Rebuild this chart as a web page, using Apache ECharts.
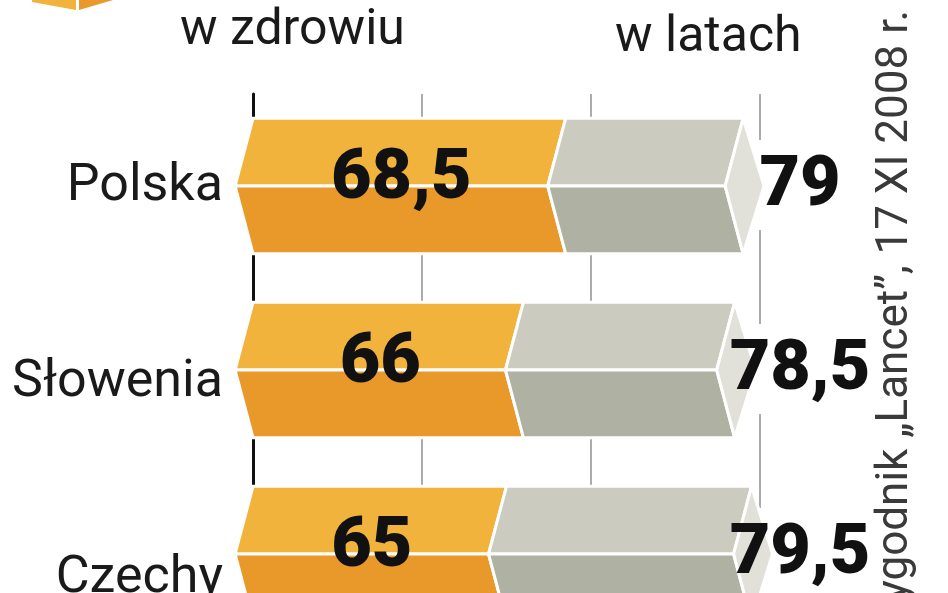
<!DOCTYPE html>
<html>
<head>
<meta charset="utf-8">
<script src="https://cdn.jsdelivr.net/npm/echarts@6/dist/echarts.min.js"></script>
<style>
html,body{margin:0;padding:0;background:#fff;}
#c{width:948px;height:593px;}
</style>
</head>
<body>
<div id="c"></div>
<script>
const categories = ['Polska', 'Słowenia', 'Czechy'];
const healthyYears = [68.5, 66, 65];
const lifeYears = [79, 78.5, 79.5];
const headerLeft = 'w zdrowiu';
const headerRight = 'w latach';
const sourceText = 'tygodnik „Lancet”, 17 XI 2008 r.';

const fmt = v => String(v).replace('.', ',');

const chart = echarts.init(document.getElementById('c'), null, {renderer: 'canvas'});

const FONT = 'Roboto, "Liberation Sans", Arial, sans-serif';

function renderItem(params, api) {
  const h0 = api.value(0), idx = api.value(1), tot = api.value(2);
  const p0 = api.coord([50, idx]);
  const c = p0[1];
  const band = api.size([0, 1])[1];
  const h = band * 0.368;
  const d = h * 0.265;
  const x0 = p0[0];
  const xo = api.coord([h0, idx])[0];
  const xt = api.coord([tot, idx])[0];
  const x80 = api.coord([80, idx])[0];
  const stroke = {stroke: '#ffffff', lineWidth: 3, lineJoin: 'miter'};
  const poly = (pts, fill) => ({type: 'polygon', shape: {points: pts}, style: Object.assign({fill: fill}, stroke)});
  return {
    type: 'group',
    children: [
      {type: 'rect', shape: {x: x80 - 4, y: c - 46, width: 8, height: 90}, style: {fill: '#ffffff'}},
      poly([[x0, c - h], [xo, c - h], [xo - d, c], [x0 - d, c]], '#F2B33C'),
      poly([[x0 - d, c], [xo - d, c], [xo, c + h], [x0, c + h]], '#E9982A'),
      poly([[xo, c - h], [xt, c - h], [xt - d, c], [xo - d, c]], '#CBCBBF'),
      poly([[xo - d, c], [xt - d, c], [xt, c + h], [xo, c + h]], '#AFB1A3'),
      poly([[xt, c - h], [xt + d + 3, c], [xt, c + h], [xt - d, c]], '#E1E1D9'),
      {type: 'text', style: {text: fmt(h0), x: (x0 + xo) / 2 - 8, y: c - 6, fill: '#111', fontFamily: FONT, fontWeight: 900, fontSize: 70, align: 'center', verticalAlign: 'middle'}},
      {type: 'text', style: {text: fmt(tot), x: x80 + 40, y: c + 1, fill: '#111', fontFamily: FONT, fontWeight: 900, fontSize: 70, align: 'center', verticalAlign: 'middle'}}
    ]
  };
}

const option = {
  animation: false,
  backgroundColor: '#ffffff',
  grid: [
    {left: 253, width: 507, top: 94, height: 552, containLabel: false, outerBoundsMode: 'none'},
    {left: 253, width: 100, top: 89, height: 588, containLabel: false, outerBoundsMode: 'none'}
  ],
  xAxis: [
    {type: 'value', gridIndex: 0, min: 50, max: 80, interval: 10,
     axisLine: {show: false}, axisTick: {show: false}, axisLabel: {show: false},
     splitLine: {show: true, lineStyle: {color: '#8f8f8f', width: 1.5}}},
    {type: 'value', gridIndex: 1, show: false}
  ],
  yAxis: [
    {type: 'category', gridIndex: 0, data: categories, inverse: true,
     axisLine: {show: true, lineStyle: {color: '#111', width: 3}}, axisTick: {show: false},
     axisLabel: {show: false}, splitLine: {show: false}},
    {type: 'category', gridIndex: 1, data: categories, inverse: true,
     axisLine: {show: false}, axisTick: {show: false}, splitLine: {show: false},
     axisLabel: {show: true, margin: 30, color: '#1a1a1a', fontFamily: FONT, fontSize: 52}}
  ],
  series: [{
    type: 'custom',
    xAxisIndex: 0,
    yAxisIndex: 0,
    clip: false,
    renderItem: renderItem,
    encode: {x: [0, 2], y: 1},
    data: categories.map((c, i) => [healthyYears[i], i, lifeYears[i]])
  }],
  graphic: [
    {type: 'polygon', shape: {points: [[32, 0], [76, 0], [76, 10], [32, 2]]}, style: {fill: '#F2B33C'}},
    {type: 'polygon', shape: {points: [[79, 0], [113, 0], [79, 10]]}, style: {fill: '#E9982A'}},
    {type: 'text', x: 180, y: 6, style: {text: headerLeft, fill: '#1a1a1a', fontFamily: FONT, fontSize: 50, align: 'left', verticalAlign: 'top'}},
    {type: 'text', x: 615, y: 13, style: {text: headerRight, fill: '#1a1a1a', fontFamily: FONT, fontSize: 50, align: 'left', verticalAlign: 'top'}},
    {type: 'text', x: 896, y: 10, rotation: Math.PI / 2, style: {text: sourceText, fill: '#3a3a3a', fontFamily: FONT, fontSize: 44, align: 'right', verticalAlign: 'middle'}}
  ]
};
chart.setOption(option);
</script>
</body>
</html>
